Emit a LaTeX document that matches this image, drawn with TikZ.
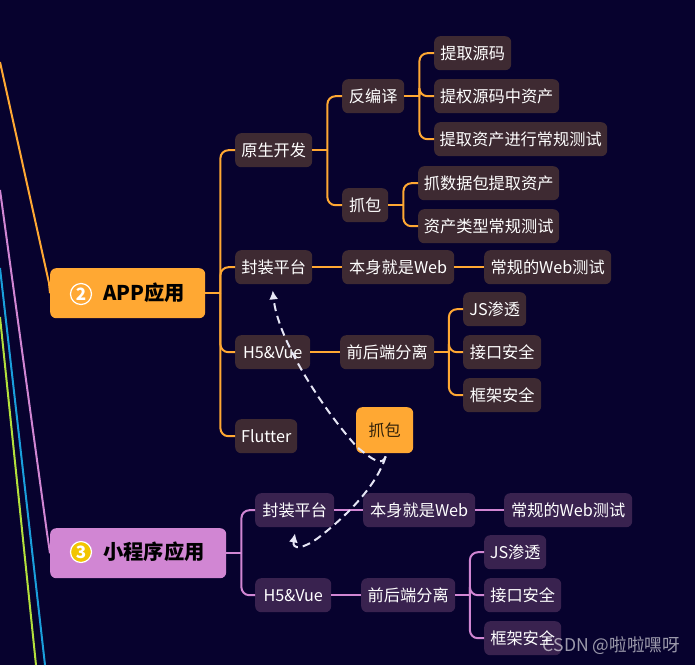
\documentclass[tikz,border=0pt]{standalone}
\usepackage{fontspec}
\setmainfont{Noto Sans CJK SC}
\usetikzlibrary{arrows.meta}
\definecolor{bgc}{HTML}{07022E}
\definecolor{org}{HTML}{FFA833}
\definecolor{pnk}{HTML}{D186D3}
\definecolor{obox}{HTML}{3E2A32}
\definecolor{pbox}{HTML}{39224F}
\definecolor{dash}{HTML}{E6E6F5}
\definecolor{blu}{HTML}{1A9FDC}
\definecolor{lim}{HTML}{B4E03C}
\definecolor{yel}{HTML}{F2C500}
\tikzset{
  x=1pt,y=-1pt,
  base/.style={anchor=north west,inner sep=0pt,rounded corners=6pt,font=\fontsize{16.2}{18}\selectfont},
  obx/.style={base,fill=obox,text=white},
  pbx/.style={base,fill=pbox,text=white},
  mainlbl/.style={anchor=west,inner sep=0pt,text=black,font=\fontsize{20.3}{24}\selectfont\bfseries},
  numc/.style={circle,draw=white,line width=1.2pt,minimum size=21pt,inner sep=0pt,text=white,font=\fontsize{17}{18}\selectfont\bfseries},
  oline/.style={draw=org,line width=2pt,rounded corners=8pt},
  pline/.style={draw=pnk,line width=2pt,rounded corners=8pt},
  dline/.style={draw=dash,line width=2pt,dash pattern=on 8pt off 5pt,-{Latex[length=9pt,width=9pt]}},
}
\newcommand{\bx}[7]{\node[#6,minimum width={(#4-#2)*1pt},minimum height={(#5-#3)*1pt}] (#1) at (#2,#3) {#7};}
\begin{document}
\begin{tikzpicture}
\useasboundingbox[fill=bgc] (0,0) rectangle (695,665);
% long lines from off-picture
\coordinate (lo) at (0,62); \coordinate (lo2) at (49,283);
\coordinate (lp) at (0,190); \coordinate (lp2) at (47,533);
\coordinate (lb1) at (0,268); \coordinate (lb2) at (45,665);
\coordinate (ll1) at (0,317); \coordinate (ll2) at (36,665);
\draw[draw=org,line width=2pt] (lo) -- (lo2);
\draw[draw=pnk,line width=2pt] (lp) -- (lp2);
\draw[draw=blu,line width=2pt] (lb1) -- (lb2);
\draw[draw=lim,line width=2pt] (ll1) -- (ll2);
% main nodes
\bx{app}{50}{268}{205}{318}{base,fill=org}{}
\bx{mini}{50}{528}{226}{578}{base,fill=pnk}{}
\node[numc,fill=org] (n2) at (81,294) {2};
\node[numc,fill=yel] (n3) at (81,552) {3};
\node[mainlbl] (t2) at (103,293) {APP应用};
\node[mainlbl] (t3) at (103,552) {小程序应用};
% APP branch
\bx{a1}{235}{133}{312}{167}{obx}{原生开发}
\bx{a11}{342}{79}{404}{113}{obx}{反编译}
\bx{a111}{434}{36}{511}{70}{obx}{提取源码}
\bx{a112}{434}{79}{559}{113}{obx}{提权源码中资产}
\bx{a113}{434}{122}{607}{156}{obx}{提取资产进行常规测试}
\bx{a12}{342}{188}{388}{222}{obx}{抓包}
\bx{a121}{418}{166}{559}{200}{obx}{抓数据包提取资产}
\bx{a122}{418}{209}{559}{243}{obx}{资产类型常规测试}
\bx{a2}{235}{250}{312}{284}{obx}{封装平台}
\bx{a21}{342}{250}{454}{284}{obx}{本身就是Web}
\bx{a22}{484}{250}{611}{284}{obx}{常规的Web测试}
\bx{a3}{235}{335}{310}{369}{obx}{H5\&Vue}
\bx{a31}{340}{335}{434}{369}{obx}{前后端分离}
\bx{a311}{463}{292}{526}{326}{obx}{JS渗透}
\bx{a312}{463}{335}{541}{369}{obx}{接口安全}
\bx{a313}{463}{378}{541}{412}{obx}{框架安全}
\bx{a4}{235}{419}{297}{453}{obx}{Flutter}
\bx{cal}{356}{407}{413}{453}{base,fill=org,text=black!80!org}{抓包}
% mini branch
\bx{m1}{255}{493}{334}{527}{pbx}{封装平台}
\bx{m11}{363}{493}{475}{527}{pbx}{本身就是Web}
\bx{m12}{504}{493}{632}{527}{pbx}{常规的Web测试}
\bx{m2}{255}{578}{331}{612}{pbx}{H5\&Vue}
\bx{m21}{361}{578}{455}{612}{pbx}{前后端分离}
\bx{m211}{484}{535}{546}{569}{pbx}{JS渗透}
\bx{m212}{484}{578}{561}{612}{pbx}{接口安全}
\bx{m213}{484}{621}{561}{655}{pbx}{框架安全}
% connectors
\draw[draw=org,line width=2pt] (lo2) -- (app.west);
\draw[draw=pnk,line width=2pt] (lp2) -- (mini.west);
\draw[oline] (app.east) -- ++(15,0);
\foreach \t in {a1,a2,a3,a4} \draw[oline] (app.east) ++(15,0) |- (\t.west);
\draw[oline] (a1.east) -- ++(15,0);
\foreach \t in {a11,a12} \draw[oline] (a1.east) ++(15,0) |- (\t.west);
\draw[oline] (a11.east) -- ++(15,0);
\foreach \t in {a111,a112,a113} \draw[oline] (a11.east) ++(15,0) |- (\t.west);
\draw[oline] (a12.east) -- ++(15,0);
\foreach \t in {a121,a122} \draw[oline] (a12.east) ++(15,0) |- (\t.west);
\draw[oline] (a2) -- (a21);
\draw[oline] (a21) -- (a22);
\draw[oline] (a3) -- (a31);
\draw[oline] (a31.east) -- ++(14.5,0);
\foreach \t in {a311,a312,a313} \draw[oline] (a31.east) ++(14.5,0) |- (\t.west);
\draw[pline] (mini.east) -- ++(15,0);
\foreach \t in {m1,m2} \draw[pline] (mini.east) ++(15,0) |- (\t.west);
\draw[pline] (m1) -- (m11);
\draw[pline] (m11) -- (m12);
\draw[pline] (m2) -- (m21);
\draw[pline] (m21.east) -- ++(14.5,0);
\foreach \t in {m211,m212,m213} \draw[pline] (m21.east) ++(14.5,0) |- (\t.west);
% callout arrows
\draw[dline] (cal.south) ++(1,3) .. controls (382,466) and (374,461) .. (357,447)
  .. controls (322,408) and (278,340) .. ([xshift=-1pt,yshift=-6pt]a2.south);
\draw[dline] (cal.south) ++(1,3) .. controls (378,482) and (352,512) .. (318,538)
  .. controls (303,549) and (292,550) .. ([yshift=-6pt]m1.south -| 295,0);
\node[anchor=east,inner sep=0pt,text=white,opacity=0.6,font=\fontsize{17.6}{20}\selectfont] (wm) at (680,646) {CSDN @啦啦嘿呀};
\end{tikzpicture}
\end{document}
